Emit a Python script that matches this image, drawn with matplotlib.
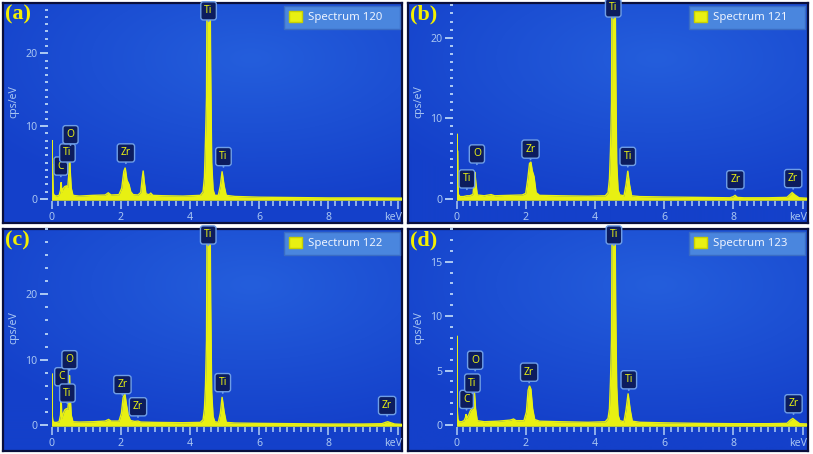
import numpy as np
import matplotlib
matplotlib.use('Agg')
import matplotlib.pyplot as plt
from matplotlib.patches import Patch
from matplotlib.ticker import MultipleLocator

# ---------------- data ----------------
panel_tags = ['(a)', '(b)', '(c)', '(d)']
spectrum_names = ['Spectrum 120', 'Spectrum 121', 'Spectrum 122', 'Spectrum 123']
y_max = [26.9, 24.3, 30.0, 18.0]
y_major_ticks = [[0, 10, 20], [0, 10, 20], [0, 10, 20], [0, 5, 10, 15]]
y_minor_step = [1, 1, 2, 1]
x_major_ticks = [0, 2, 4, 6, 8, 10]
x_tick_labels = ['0', '2', '4', '6', '8', '']
x_unit = 'keV'
y_unit = 'cps/eV'

energy_a = [0.00, 0.01, 0.02, 0.03, 0.05, 0.08, 0.14, 0.22, 0.26, 0.28,
            0.30, 0.33, 0.38, 0.43, 0.47, 0.50, 0.52, 0.54, 0.57, 0.62,
            0.80, 1.20, 1.55, 1.64, 1.72, 1.95, 2.03, 2.09, 2.13, 2.18,
            2.24, 2.29, 2.36, 2.50, 2.58, 2.62, 2.65, 2.68, 2.73, 2.82,
            2.87, 2.93, 3.20, 3.80, 4.30, 4.38, 4.42, 4.45, 4.48, 4.50,
            4.51, 4.57, 4.60, 4.63, 4.67, 4.72, 4.82, 4.88, 4.93, 4.99,
            5.05, 5.30, 6.00, 7.00, 8.00, 9.00, 10.12]
cps_a = [0.0, 8.1, 4.5, 4.8, 0.8, 0.5, 0.4, 0.5, 1.2, 2.3,
         0.9, 1.4, 1.7, 1.8, 1.6, 3.5, 6.3, 4.0, 1.5, 0.5,
         0.4, 0.5, 0.55, 0.85, 0.55, 0.6, 1.5, 3.8, 4.3, 2.6,
         2.0, 1.0, 0.6, 0.55, 0.9, 2.8, 3.9, 2.4, 0.7, 0.6,
         0.8, 0.5, 0.45, 0.4, 0.5, 1.0, 3.0, 8.0, 14.0, 34.0,
         40.0, 40.0, 18.0, 5.0, 1.3, 0.5, 0.5, 1.8, 3.8, 1.8,
         0.5, 0.35, 0.25, 0.2, 0.15, 0.15, 0.12]

energy_b = [0.00, 0.01, 0.02, 0.03, 0.05, 0.10, 0.20, 0.30, 0.38, 0.44,
            0.48, 0.51, 0.53, 0.56, 0.60, 0.80, 1.00, 1.10, 1.50, 1.90,
            2.00, 2.06, 2.11, 2.15, 2.19, 2.24, 2.30, 2.40, 3.00, 3.80,
            4.30, 4.38, 4.42, 4.45, 4.48, 4.50, 4.51, 4.57, 4.60, 4.63,
            4.67, 4.72, 4.84, 4.90, 4.95, 5.00, 5.06, 5.30, 6.00, 7.00,
            7.90, 8.00, 8.05, 8.12, 8.30, 9.00, 9.55, 9.65, 9.70, 9.78,
            9.90, 10.12]
cps_b = [0.0, 8.1, 2.0, 6.0, 0.6, 0.3, 0.3, 0.4, 0.4, 0.5,
         0.6, 2.5, 3.35, 2.0, 0.5, 0.4, 0.55, 0.4, 0.45, 0.5,
         0.7, 2.5, 4.4, 4.6, 3.5, 2.8, 0.8, 0.45, 0.4, 0.35,
         0.4, 0.8, 2.5, 6.0, 12.0, 32.0, 40.0, 40.0, 17.0, 4.5,
         1.1, 0.5, 0.4, 1.8, 3.5, 1.8, 0.4, 0.3, 0.25, 0.2,
         0.15, 0.3, 0.45, 0.2, 0.15, 0.15, 0.2, 0.6, 0.8, 0.5,
         0.15, 0.1]

energy_c = [0.00, 0.01, 0.02, 0.04, 0.08, 0.15, 0.22, 0.26, 0.28, 0.30,
            0.34, 0.38, 0.43, 0.47, 0.50, 0.52, 0.54, 0.57, 0.62, 0.80,
            1.20, 1.55, 1.65, 1.72, 1.95, 2.02, 2.07, 2.12, 2.17, 2.22,
            2.28, 2.40, 2.50, 2.58, 3.00, 3.80, 4.30, 4.38, 4.42, 4.45,
            4.48, 4.50, 4.51, 4.57, 4.60, 4.63, 4.67, 4.72, 4.82, 4.88,
            4.93, 4.99, 5.05, 5.30, 6.00, 7.00, 8.00, 9.00, 9.55, 9.65,
            9.72, 9.80, 9.92, 10.12]
cps_c = [0.0, 7.9, 1.5, 0.6, 0.4, 0.4, 0.5, 1.5, 4.0, 1.0,
         1.8, 2.3, 2.5, 2.4, 4.0, 7.6, 4.5, 1.5, 0.5, 0.45,
         0.5, 0.6, 0.85, 0.6, 0.6, 1.8, 4.2, 4.8, 3.0, 1.5,
         0.7, 0.55, 0.6, 0.45, 0.4, 0.35, 0.4, 0.8, 2.5, 6.0,
         13.0, 36.0, 45.0, 45.0, 19.0, 5.0, 1.3, 0.5, 0.4, 1.8,
         4.3, 2.0, 0.4, 0.3, 0.25, 0.2, 0.15, 0.15, 0.2, 0.4,
         0.5, 0.35, 0.15, 0.1]

energy_d = [0.00, 0.01, 0.02, 0.04, 0.08, 0.15, 0.22, 0.26, 0.28, 0.30,
            0.35, 0.40, 0.45, 0.49, 0.52, 0.55, 0.60, 0.80, 1.20, 1.55,
            1.65, 1.72, 1.95, 2.02, 2.07, 2.11, 2.15, 2.20, 2.26, 2.40,
            3.00, 3.80, 4.30, 4.38, 4.42, 4.45, 4.48, 4.50, 4.51, 4.57,
            4.60, 4.63, 4.67, 4.72, 4.84, 4.90, 4.96, 5.02, 5.08, 5.30,
            6.00, 7.00, 8.00, 9.00, 9.55, 9.65, 9.72, 9.80, 9.92, 10.12]
cps_d = [0.0, 8.2, 1.5, 0.5, 0.3, 0.3, 0.4, 0.7, 1.0, 0.6,
         0.9, 1.3, 1.5, 1.6, 3.0, 1.5, 0.4, 0.3, 0.35, 0.45,
         0.55, 0.4, 0.4, 1.2, 3.2, 3.6, 3.3, 1.5, 0.5, 0.35,
         0.3, 0.25, 0.3, 0.6, 1.5, 4.0, 8.0, 21.0, 25.0, 25.0,
         11.0, 3.5, 0.9, 0.4, 0.3, 1.4, 2.9, 1.4, 0.35, 0.25,
         0.2, 0.15, 0.12, 0.12, 0.15, 0.45, 0.6, 0.4, 0.12, 0.1]

# element markers: (symbol, energy keV, cps at bottom of tag)
peaks_a = [('C', 0.27, 3.1), ('Ti', 0.46, 4.9), ('O', 0.55, 7.4),
           ('Zr', 2.15, 4.9), ('Ti', 4.54, 24.4), ('Ti', 4.97, 4.4)]
peaks_b = [('Ti', 0.30, 1.2), ('O', 0.59, 4.3), ('Zr', 2.14, 4.9),
           ('Ti', 4.53, 22.4), ('Ti', 4.95, 4.0), ('Zr', 8.06, 1.1),
           ('Zr', 9.73, 1.25)]
peaks_c = [('C', 0.29, 5.8), ('O', 0.52, 8.4), ('Ti', 0.46, 3.3),
           ('Zr', 2.05, 4.6), ('Zr', 2.50, 1.2), ('Ti', 4.53, 27.5),
           ('Ti', 4.95, 4.9), ('Zr', 9.70, 1.4)]
peaks_d = [('C', 0.29, 1.4), ('Ti', 0.46, 2.9), ('O', 0.54, 5.0),
           ('Zr', 2.10, 3.9), ('Ti', 4.55, 16.5), ('Ti', 4.98, 3.2),
           ('Zr', 9.74, 1.0)]

energies = [energy_a, energy_b, energy_c, energy_d]
counts = [cps_a, cps_b, cps_c, cps_d]
peak_tags = [peaks_a, peaks_b, peaks_c, peaks_d]

# ---------------- styling ----------------
W, H = 813, 454
PT = 0.72  # points per pixel at dpi 100
YELLOW = '#e8f012'
TICKC = '#a9c6f2'
FONT = ['Noto Sans', 'DejaVu Sans']

fig = plt.figure(figsize=(W / 100, H / 100), dpi=100)
fig.patch.set_facecolor('white')

# panel rectangles in pixels: left, top, width, height
panels = [(3, 3, 399, 220), (408, 3, 400, 220), (3, 229, 399, 222), (408, 229, 400, 222)]


def frac(l, t, w, h):
    return [l / W, 1 - (t + h) / H, w / W, h / H]


# subtle radial gradient background
gy, gx = np.mgrid[0:1:220j, 0:1:400j]
dist = np.sqrt(((gx - 0.62) / 1.0) ** 2 + ((gy - 0.25) / 0.85) ** 2)
t = np.clip(dist / 0.8, 0, 1)[..., None]
c_center = np.array([36, 94, 220]) / 255
c_edge = np.array([20, 64, 202]) / 255
grad = c_center * (1 - t) + c_edge * t

for i, (pl, pt, pw, ph) in enumerate(panels):
    bg = fig.add_axes(frac(pl, pt, pw, ph))
    bg.imshow(grad, extent=(0, 1, 0, 1), aspect='auto', origin='upper', zorder=0)
    bg.set_xlim(0, 1)
    bg.set_ylim(0, 1)
    bg.set_xticks([])
    bg.set_yticks([])
    for s in bg.spines.values():
        s.set_color('#0a0f3c')
        s.set_linewidth(1.6)

    ppu = 196.0 / y_max[i]
    x0 = 48.5
    ax_w = 10.12 * 34.6
    ax = fig.add_axes(frac(pl + x0, pt, ax_w, 198))
    ax.patch.set_alpha(0)
    ax.set_xlim(0, 10.12)
    ax.set_ylim(-2.0 / ppu, y_max[i])

    e = np.array(energies[i])
    c = np.array(counts[i])
    ax.fill_between(e, 0, c, color=YELLOW, lw=0, zorder=3)
    ax.plot(e, c, color=YELLOW, lw=1.0, zorder=3, solid_joinstyle='miter')
    ax.plot([0, 10.12], [0, 0], color=YELLOW, lw=1.8, zorder=3)

    for s in ax.spines.values():
        s.set_visible(False)
    ax.spines['left'].set_position(('outward', 4 * PT))

    ax.set_xticks(x_major_ticks, x_tick_labels)
    ax.xaxis.set_minor_locator(MultipleLocator(0.2))
    ax.tick_params(axis='x', which='major', length=8 * PT, width=1.6 * PT,
                   color=TICKC, labelcolor=TICKC, labelsize=7.6, pad=3.5 * PT)
    ax.tick_params(axis='x', which='minor', length=5 * PT, width=1.6 * PT, color=TICKC)
    ax.set_yticks(y_major_ticks[i])
    ax.yaxis.set_minor_locator(MultipleLocator(y_minor_step[i]))
    ax.tick_params(axis='y', which='major', length=8 * PT, width=2 * PT,
                   color=TICKC, labelcolor=TICKC, labelsize=7.6, pad=2 * PT)
    ax.tick_params(axis='y', which='minor', length=3 * PT, width=2 * PT, color=TICKC)
    for lab in ax.get_xticklabels() + ax.get_yticklabels():
        lab.set_family(FONT)

    ax.text(-37.5 / ax_w, 0.5, y_unit, transform=ax.transAxes, rotation=90,
            ha='center', va='center', color=TICKC, fontsize=7.6, family=FONT)
    ax.text(1.0, -17 / 198, x_unit, transform=ax.transAxes, ha='right',
            va='center', color=TICKC, fontsize=7.6, family=FONT)

    # element tags
    for sym, ex, ey in peak_tags[i]:
        ax.annotate(sym, xy=(ex, ey), xytext=(0, 3.5), textcoords='offset points',
                    ha='center', va='bottom', fontsize=7.4, color=YELLOW,
                    family=FONT, fontweight='semibold', zorder=6,
                    annotation_clip=False,
                    bbox=dict(boxstyle='round,pad=0.35,rounding_size=0.25',
                              fc='#0c1c5e', ec='#6f9ee6', lw=1.0),
                    arrowprops=dict(arrowstyle='-', color='#6f9ee6', lw=1.3,
                                    shrinkA=0, shrinkB=0))

    # legend
    leg = ax.legend(handles=[Patch(facecolor=YELLOW, edgecolor='#c8d000',
                                   label=spectrum_names[i])],
                    loc='upper left',
                    bbox_to_anchor=((pl + 281) / W, 1 - (pt + 3) / H, 116 / W, 0.0),
                    bbox_transform=fig.transFigure, mode='expand',
                    borderaxespad=0, borderpad=0.45, handlelength=1.1,
                    handleheight=1.1, handletextpad=0.55, fancybox=False,
                    framealpha=1, facecolor='#4a86de', edgecolor='#3a6cc4',
                    prop={'family': FONT, 'size': 8.2})
    leg.get_frame().set_linewidth(1.0)
    for txt in leg.get_texts():
        txt.set_color('#eef4ff')
    leg.set_zorder(7)

    fig.text((pl + 2) / W, 1 - (pt + 1) / H, panel_tags[i], ha='left', va='top',
             fontsize=16, fontweight='bold', family=['Liberation Serif', 'DejaVu Serif'],
             color='#f4f000', zorder=8)

fig.savefig('out.png', dpi=100, facecolor='white')
